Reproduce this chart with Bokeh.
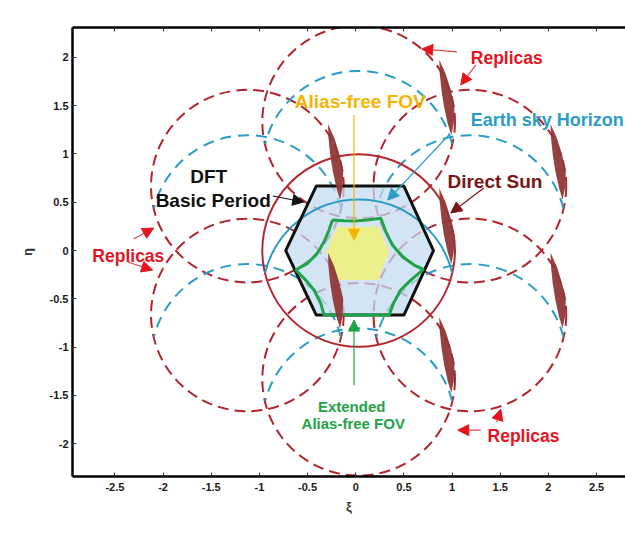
import math
from bokeh.plotting import figure
from bokeh.models import Range1d, LinearAxis, FixedTicker, Arrow, NormalHead, Label
from bokeh.embed import file_html
from bokeh.resources import INLINE

# ---------------- axis ticks ----------------
xticks = [-2.5, -2, -1.5, -1, -0.5, 0, 0.5, 1, 1.5, 2, 2.5]
xtick_labels = ["-2.5", "-2", "-1.5", "-1", "-0.5", "0", "0.5", "1", "1.5", "2", "2.5"]
yticks = [-2, -1.5, -1, -0.5, 0, 0.5, 1, 1.5, 2]
ytick_labels = ["-2", "-1.5", "-1", "-0.5", "0", "0.5", "1", "1.5", "2"]

# ---------------- geometry ----------------
centre_xi = 0.03          # diagram centre (slightly right of 0)
unit_radius = 1.0
replica_xi = [0.0, 0.0, 1.155, 1.155, -1.155, -1.155]
replica_eta = [1.333, -1.333, 0.667, -0.667, 0.667, -0.667]
horizon_shift = -0.47     # Earth-sky horizon circle centre offset
horizon_start_deg = 14
horizon_end_deg = 166

hex_xi = [-0.727, -0.41, 0.50, 0.807, 0.50, -0.41]
hex_eta = [0.0, 0.668, 0.668, 0.0, -0.668, -0.668]

afov_xi = [-0.312, -0.190, 0.242, 0.346, 0.232, -0.173]
afov_eta = [-0.012, 0.247, 0.247, -0.012, -0.306, -0.306]

ext_xi = [-0.242, -0.121, 0.0, 0.121, 0.260, 0.312, 0.381, 0.485, 0.606, 0.703,
          0.571, 0.467, 0.391, 0.346, -0.329, -0.363, -0.433, -0.519, -0.623,
          -0.502, -0.398, -0.329, -0.277, -0.242]
ext_eta = [0.316, 0.309, 0.306, 0.316, 0.334, 0.195, 0.057, -0.064, -0.150, -0.195,
           -0.306, -0.409, -0.547, -0.668, -0.668, -0.547, -0.409, -0.306, -0.202,
           -0.133, -0.029, 0.091, 0.212, 0.316]

sun_xi = [-0.288, -0.222, -0.168, -0.130, -0.138, -0.163, -0.200, -0.238, -0.265, -0.283]
sun_eta = [-0.023, -0.168, -0.340, -0.513, -0.686, -0.806, -0.686, -0.513, -0.340, -0.168]
sun_dxi = [0.0, 0.0, 1.155, 1.155, 1.155, 2.31, 2.31]
sun_deta = [0.0, 1.333, 0.667, 2.0, -0.667, 1.333, 0.0]

# ---------------- annotations ----------------
label_text = ["Replicas", "Alias-free FOV", "Earth sky Horizon", "DFT", "Basic Period",
              "Direct Sun", "Replicas", "Extended", "Alias-free FOV", "Replicas"]
label_xi = [1.194, 0.047, 1.194, -1.526, -2.077, 0.952, -2.734, -0.042, -0.026, 1.368]
label_eta = [1.995, 1.539, 1.352, 0.765, 0.523, 0.713, -0.057, -1.611, -1.788, -1.919]

arrow_x0 = [1.049, 1.246, -0.018, 0.966, -0.862, 1.329, -2.305, -2.368, -0.018, 1.298, 1.464]
arrow_y0 = [2.057, 1.922, 1.404, 1.197, 0.565, 0.648, 0.119, -0.119, -1.394, -1.860, -1.777]
arrow_x1 = [0.685, 1.090, -0.018, 0.332, -0.540, 0.987, -2.098, -2.108, -0.018, 1.059, 1.506]
arrow_y1 = [2.088, 1.715, 0.109, 0.523, 0.503, 0.389, 0.233, -0.202, -0.720, -1.860, -1.643]

# ---------------- styles ----------------
RED_DASH = "#B3232B"
RED_MAIN = "#B5272D"
BLUE = "#2A9CC8"
BLACK = "#111111"
GREEN = "#1FA347"
YELLOW_TXT = "#F5B400"
SUN = "#8F3838"
DARKRED = "#7B1416"
RED_TXT = "#E5141E"
RED_LINE = "#E34848"

label_color = [RED_TXT, YELLOW_TXT, BLUE, BLACK, BLACK, DARKRED, RED_TXT, GREEN, GREEN, RED_TXT]
label_size = ["17.5px", "19px", "18px", "19px", "19px", "19px", "17.5px", "15px", "15px", "17.5px"]
label_align = ["left", "center", "left", "center", "left", "left", "left", "center", "center", "left"]
arrow_line = [RED_LINE, RED_LINE, YELLOW_TXT, BLUE, BLACK, DARKRED, RED_LINE, RED_LINE, GREEN, RED_LINE, RED_LINE]
arrow_head = [RED_TXT, RED_TXT, YELLOW_TXT, BLUE, BLACK, DARKRED, RED_TXT, RED_TXT, GREEN, RED_TXT, RED_TXT]

p = figure(width=625, height=542,
           x_range=Range1d(-2.94, 2.80), y_range=Range1d(-2.34, 2.31),
           output_backend="svg", toolbar_location=None,
           min_border_left=72, min_border_right=0, min_border_top=27, min_border_bottom=66,
           background_fill_color="white", border_fill_color="white")
p.outline_line_color = None
p.grid.visible = False

# replica unit circles (dashed)
rx = [x + centre_xi for x in replica_xi]
p.circle(x=rx, y=replica_eta, radius=unit_radius, fill_color=None,
         line_color=RED_DASH, line_width=2, line_dash="11 6")
# replica Earth-sky horizons (dashed)
p.arc(x=rx, y=[y + horizon_shift for y in replica_eta], radius=unit_radius,
      start_angle=math.radians(horizon_start_deg), end_angle=math.radians(horizon_end_deg),
      direction="anticlock", line_color=BLUE, line_width=2, line_dash="11 7")

# DFT basic period hexagon (semi-transparent fill)
p.patch(x=hex_xi, y=hex_eta, fill_color="#C3DAF1", fill_alpha=0.74, line_color=None)

# main unit circle and horizon (solid)
p.circle(x=[centre_xi], y=[0.0], radius=unit_radius, fill_color=None,
         line_color=RED_MAIN, line_width=2)
p.arc(x=[centre_xi], y=[horizon_shift], radius=unit_radius,
      start_angle=math.radians(horizon_start_deg), end_angle=math.radians(horizon_end_deg),
      direction="anticlock", line_color=BLUE, line_width=2)

# alias-free FOV
p.patch(x=afov_xi, y=afov_eta, fill_color="#EDF08A", line_color=None)
# hexagon outline
p.patch(x=hex_xi, y=hex_eta, fill_color=None, line_color=BLACK, line_width=3)
# extended alias-free FOV
p.line(x=ext_xi, y=ext_eta, line_color=GREEN, line_width=3)

# direct-sun replicas
p.patches(xs=[[x + dx for x in sun_xi] for dx in sun_dxi],
          ys=[[y + dy for y in sun_eta] for dy in sun_deta],
          fill_color=SUN, fill_alpha=0.95, line_color=None)

# arrows
for i in range(len(arrow_x0)):
    p.add_layout(Arrow(end=NormalHead(size=11, fill_color=arrow_head[i], line_color=arrow_head[i], line_width=1),
                       x_start=arrow_x0[i], y_start=arrow_y0[i], x_end=arrow_x1[i], y_end=arrow_y1[i],
                       line_color=arrow_line[i], line_width=1.2))

# labels
for i in range(len(label_text)):
    p.add_layout(Label(x=label_xi[i], y=label_eta[i], text=label_text[i],
                       text_font="Liberation Sans", text_font_style="bold",
                       text_font_size=label_size[i], text_color=label_color[i],
                       text_align=label_align[i], text_baseline="alphabetic"))

# axes
bottom_axis = p.below[0]
left_axis = p.left[0]
bottom_axis.ticker = FixedTicker(ticks=xticks)
bottom_axis.major_label_overrides = dict(zip(xticks, xtick_labels))
left_axis.ticker = FixedTicker(ticks=yticks)
left_axis.major_label_overrides = dict(zip(yticks, ytick_labels))
top_axis = LinearAxis(ticker=FixedTicker(ticks=xticks),
                      major_label_overrides={t: "" for t in xticks})
p.add_layout(top_axis, "above")

for ax in [bottom_axis, left_axis, top_axis]:
    ax.axis_line_width = 2.5
    ax.axis_line_color = "black"
    ax.major_tick_in = 4
    ax.major_tick_out = 0
    ax.minor_tick_in = 0
    ax.minor_tick_out = 0
    ax.major_tick_line_color = "#333333"
    ax.major_label_text_font = "Liberation Sans"
    ax.major_label_text_font_style = "bold"
    ax.major_label_text_font_size = "11px"
    ax.major_label_text_color = "#1a1a1a"
    ax.major_label_standoff = 6

bottom_axis.axis_label = "ξ"
left_axis.axis_label = "η"
for ax in [bottom_axis, left_axis]:
    ax.axis_label_text_font = "Liberation Sans"
    ax.axis_label_text_font_style = "bold"
    ax.axis_label_text_font_size = "13px"
    ax.axis_label_text_color = "#333333"
bottom_axis.axis_label_standoff = 5
left_axis.axis_label_standoff = 12
left_axis.major_label_standoff = 4

open("out.html", "w").write(file_html(p, INLINE))
